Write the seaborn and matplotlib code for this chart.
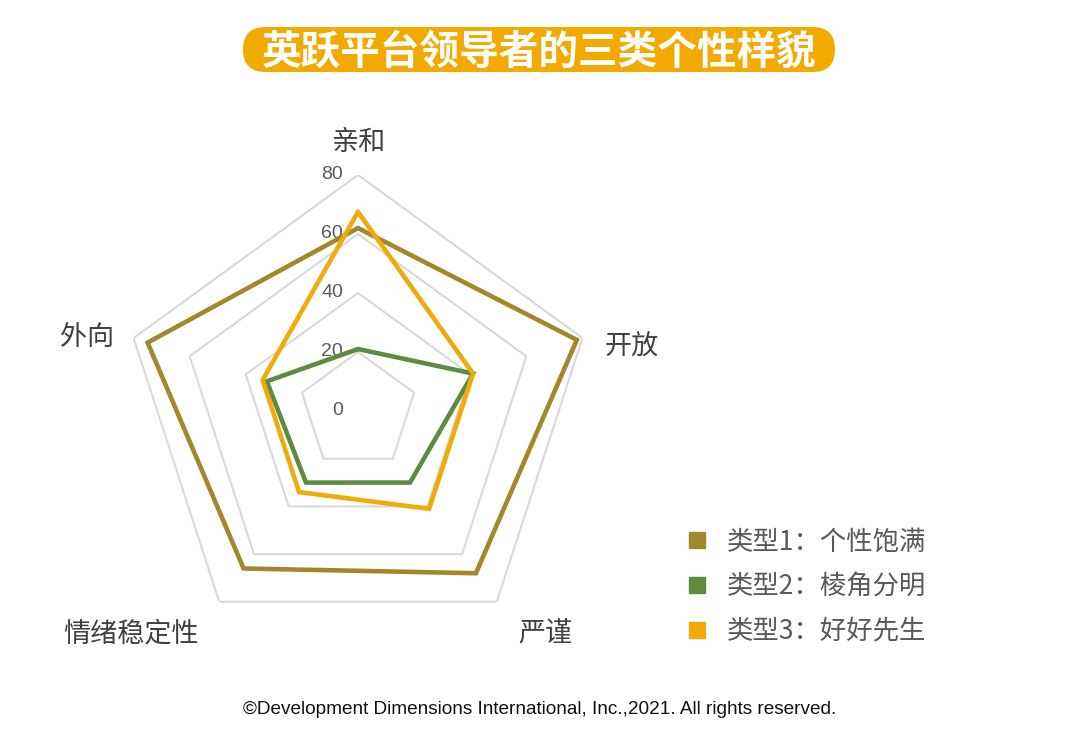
import matplotlib
matplotlib.use("Agg")
import matplotlib.pyplot as plt
import seaborn as sns
import numpy as np
from matplotlib.lines import Line2D
from matplotlib.patches import FancyBboxPatch
from matplotlib.transforms import offset_copy

# data
categories = ["亲和", "开放", "严谨", "情绪稳定性", "外向"]
series_names = ["类型1：个性饱满", "类型2：棱角分明", "类型3：好好先生"]
type1 = [62, 78, 68, 66, 75]
type2 = [21, 41, 30, 30, 32.5]
type3 = [67.5, 41, 41, 34, 34]
r_ticks = [0, 20, 40, 60, 80]

colors = ["#a3872b", "#5e8b41", "#f0aa0a"]
# label placement (angle shift in degrees, radius in data units)
label_shift = [0, 4, -4.4, 9.9, -2.3]
label_r = [92, 95.6, 98, 107, 95.3]

sns.set_theme(style="white")
plt.rcParams["font.family"] = ["Noto Sans CJK SC", "DejaVu Sans"]

fig = plt.figure(figsize=(10.8, 7.52), dpi=100)
ax = fig.add_axes([0.113, 0.1395, 0.437, 0.628], projection="polar")
ax.set_theta_offset(np.pi / 2)
ax.set_theta_direction(-1)
ax.set_ylim(0, 80)
ax.grid(False)
ax.spines["polar"].set_visible(False)
ax.set_xticks([])
ax.set_yticks([])
ax.patch.set_alpha(0)

n = len(categories)
angles = np.linspace(0, 2 * np.pi, n, endpoint=False)
closed = np.append(angles, angles[0])

# pentagon gridlines
for r in r_ticks[1:]:
    ax.plot(closed, [r] * (n + 1), color="#d9d9d9", lw=1.5, zorder=1)

# tick labels along the top spoke
tick_tr = offset_copy(ax.transData, fig=fig, x=-15, y=0, units="dots")
for r in r_ticks:
    ax.text(0, r, str(r), transform=tick_tr, ha="right", va="center",
            fontsize=14, color="#595959", family=["Liberation Sans", "DejaVu Sans"])

# series
for vals, c, name in zip([type1, type2, type3], colors, series_names):
    ax.plot(closed, np.append(vals, vals[0]), color=c, lw=3.3, zorder=3,
            solid_joinstyle="miter", label=name)

# category labels
lab_tr = offset_copy(ax.transData, fig=fig, x=0, y=-3, units="dots")
for a, cat, sh, lr in zip(angles, categories, label_shift, label_r):
    ax.text(a + np.deg2rad(sh), lr, cat, transform=lab_tr, ha="center", va="center",
            fontsize=19.5, color="#404040")

# legend
handles = [Line2D([0], [0], marker="s", linestyle="none", markersize=11,
                  markerfacecolor=c, markeredgecolor=c) for c in colors]
fig.legend(handles, series_names, loc="upper left", bbox_to_anchor=(0.6115, 0.3285),
           frameon=False, fontsize=19, labelcolor="#595959", handletextpad=0.6,
           labelspacing=0.68, handlelength=1.0)

# title
fig.patches.append(FancyBboxPatch((2.43, 6.80), 5.92, 0.45,
                                  boxstyle="round,pad=0,rounding_size=0.225",
                                  transform=fig.dpi_scale_trans, fc="#f2a900", ec="none"))
fig.text(0.499, 1 - 52 / 752, "英跃平台领导者的三类个性样貌", ha="center", va="center",
         fontsize=28.5, fontweight="bold", color="white")

# footer
fig.text(0.5, 1 - 710 / 752, "©Development Dimensions International, Inc.,2021. All rights reserved.",
         ha="center", va="center", fontsize=13.7, color="#111111",
         family=["Liberation Sans", "DejaVu Sans"])

fig.savefig("out.png", dpi=100, facecolor="white")
